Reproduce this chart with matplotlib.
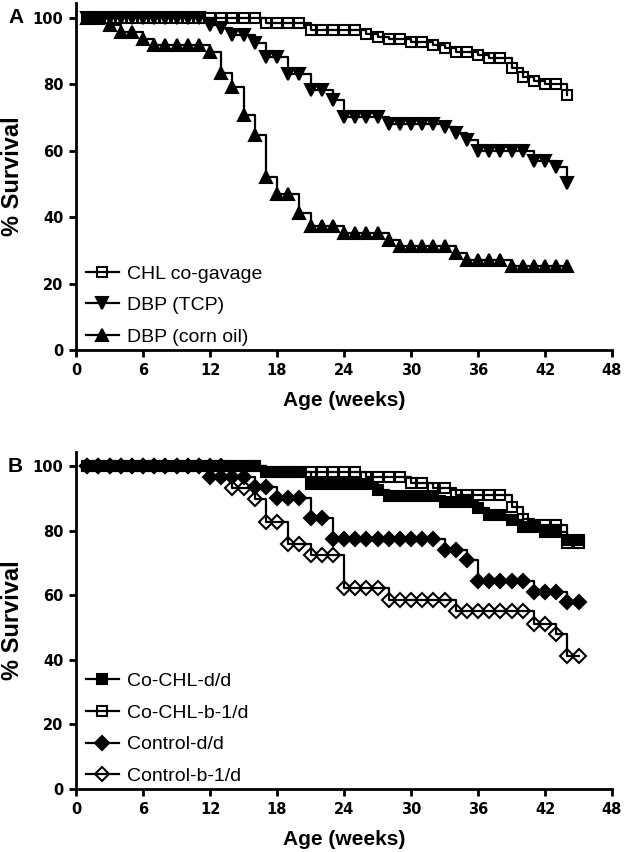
import matplotlib
matplotlib.use("Agg")
import matplotlib.pyplot as plt

# ---- panel A data (weeks 1..44) ----
weeks_a = list(range(1, 45))
chl_cogavage = [100, 100, 100, 100, 100, 100, 100, 100, 100, 100, 100, 100, 100, 100, 100, 100,
                98.4, 98.4, 98.4, 98.4, 96.4, 96.4, 96.4, 96.4, 96.4, 95.2, 94.2, 93.6, 93.6,
                92.6, 92.6, 91.8, 90.9, 89.6, 89.6, 88.7, 87.9, 87.9, 85.0, 82.3, 81.0, 80.1,
                80.1, 76.8]
dbp_tcp = [100, 100, 100, 100, 100, 100, 100, 100, 100, 100, 100, 97.9, 97.0, 95.0, 95.0,
           92.3, 88.3, 88.3, 83.2, 83.2, 78.2, 78.2, 75.2, 70.1, 70.1, 70.1, 70.1, 68.1, 68.1,
           68.1, 68.1, 68.1, 67.1, 65.3, 63.3, 60.0, 60.0, 60.0, 60.0, 60.0, 57.0, 57.0, 55.2,
           50.4]
dbp_cornoil = [100, 100, 97.9, 95.8, 95.8, 93.8, 91.7, 91.7, 91.7, 91.7, 91.7, 89.6, 83.3,
               79.2, 70.8, 64.6, 52.1, 47.0, 47.0, 41.2, 37.3, 37.3, 37.3, 35.3, 35.3, 35.3,
               35.3, 33.1, 31.2, 31.2, 31.2, 31.2, 31.2, 29.2, 27.1, 27.1, 27.1, 27.1, 25.2,
               25.2, 25.2, 25.2, 25.2, 25.2]
labels_a = ["CHL co-gavage", "DBP (TCP)", "DBP (corn oil)"]

# ---- panel B data (weeks 1..45) ----
weeks_b = list(range(1, 46))
cochl_dd = [100, 100, 100, 100, 100, 100, 100, 100, 100, 100, 100, 100, 100, 100, 100, 100,
            98.3, 98.3, 98.3, 98.3, 94.6, 94.6, 94.6, 94.6, 94.6, 94.6, 92.6, 90.7, 90.7, 90.7,
            90.7, 90.7, 89.0, 89.0, 89.0, 86.9, 85.0, 85.0, 83.3, 81.2, 81.2, 79.5, 79.5, 77.1,
            77.1]
cochl_b1d = [100, 100, 100, 100, 100, 100, 100, 100, 100, 100, 100, 100, 100, 100, 100, 100,
             98.3, 98.3, 98.3, 98.3, 98.3, 98.3, 98.3, 98.3, 98.3, 96.7, 96.7, 96.7, 96.7, 94.8,
             94.8, 93.1, 93.1, 91.0, 91.0, 91.0, 91.0, 91.0, 87.2, 83.6, 81.7, 81.7, 81.7, 76.1,
             76.1]
control_dd = [100, 100, 100, 100, 100, 100, 100, 100, 100, 100, 100, 96.6, 96.6, 96.6, 96.6,
              93.4, 93.4, 90.2, 90.2, 90.2, 83.8, 83.8, 77.4, 77.4, 77.4, 77.4, 77.4, 77.4, 77.4,
              77.4, 77.4, 77.4, 74.0, 74.0, 70.9, 64.4, 64.4, 64.4, 64.4, 64.4, 61.1, 61.1, 61.1,
              58.0, 58.0]
control_b1d = [100, 100, 100, 100, 100, 100, 100, 100, 100, 100, 100, 100, 100, 93.1, 93.1,
               89.7, 82.8, 82.8, 75.8, 75.8, 72.4, 72.4, 72.4, 62.1, 62.1, 62.1, 62.1, 58.5, 58.5,
               58.5, 58.5, 58.5, 58.5, 55.2, 55.2, 55.2, 55.2, 55.2, 55.2, 55.2, 51.1, 51.1, 48.0,
               41.2, 41.2]
labels_b = ["Co-CHL-d/d", "Co-CHL-b-1/d", "Control-d/d", "Control-b-1/d"]

xticks = [0, 6, 12, 18, 24, 30, 36, 42, 48]
yticks = [0, 20, 40, 60, 80, 100]

fig = plt.figure(figsize=(6.24, 8.52), dpi=100)
axA = fig.add_axes([0.1218, 0.5892, 0.859, 0.4073])
axB = fig.add_axes([0.1218, 0.0739, 0.859, 0.3961])

lw = 1.6
common = dict(color="black", drawstyle="steps-post", lw=lw, mew=1.5, mec="black")

# panel A
hA = []
hA += axA.plot(weeks_a, dbp_cornoil, marker="^", ms=8, mfc="black", label=labels_a[2], **common)
hA += axA.plot(weeks_a, dbp_tcp, marker="v", ms=8, mfc="black", label=labels_a[1], **common)
hA += axA.plot(weeks_a, chl_cogavage, marker="s", ms=7.5, mfc="none", label=labels_a[0], **common)

# panel B
hB = []
hB += axB.plot(weeks_b, cochl_b1d, marker="s", ms=7.5, mfc="none", label=labels_b[1], **common)
hB += axB.plot(weeks_b, control_b1d, marker="D", ms=7, mfc="none", label=labels_b[3], **common)
hB += axB.plot(weeks_b, cochl_dd, marker="s", ms=7.5, mfc="black", label=labels_b[0], **common)
hB += axB.plot(weeks_b, control_dd, marker="D", ms=7, mfc="black", label=labels_b[2], **common)

for ax in (axA, axB):
    ax.set_xlim(0, 48)
    ax.set_ylim(0, 104.5)
    ax.set_xticks(xticks)
    ax.set_yticks(yticks)
    for s in ("top", "right"):
        ax.spines[s].set_visible(False)
    for s in ("left", "bottom"):
        ax.spines[s].set_linewidth(2.0)
    ax.tick_params(direction="out", length=5, width=2.0, pad=4)
    for t in ax.get_xticklabels() + ax.get_yticklabels():
        t.set_family("DejaVu Sans")
        t.set_weight("bold")
        t.set_fontsize(10.5)
    ax.set_ylabel("% Survival", family="Liberation Sans", weight="bold", fontsize=17, labelpad=6)
    ax.set_xlabel("Age (weeks)", family="Liberation Sans", weight="bold", fontsize=15, labelpad=10)

leg_kw = dict(loc="lower left", bbox_to_anchor=(0.018, 0.012), borderaxespad=0, borderpad=0,
              frameon=False, numpoints=1, handlelength=1.7, handletextpad=0.45,
              labelspacing=0.72, prop={"family": "Liberation Sans", "size": 14})
axA.legend([hA[2], hA[1], hA[0]], [labels_a[0], labels_a[1], labels_a[2]], **leg_kw)
axB.legend([hB[2], hB[0], hB[3], hB[1]], labels_b, **leg_kw)

fig.text(0.013, 0.979, "A", family="Liberation Sans", weight="bold", fontsize=15, va="center")
fig.text(0.013, 0.453, "B", family="Liberation Sans", weight="bold", fontsize=15, va="center")

fig.savefig("out.png", dpi=100)
